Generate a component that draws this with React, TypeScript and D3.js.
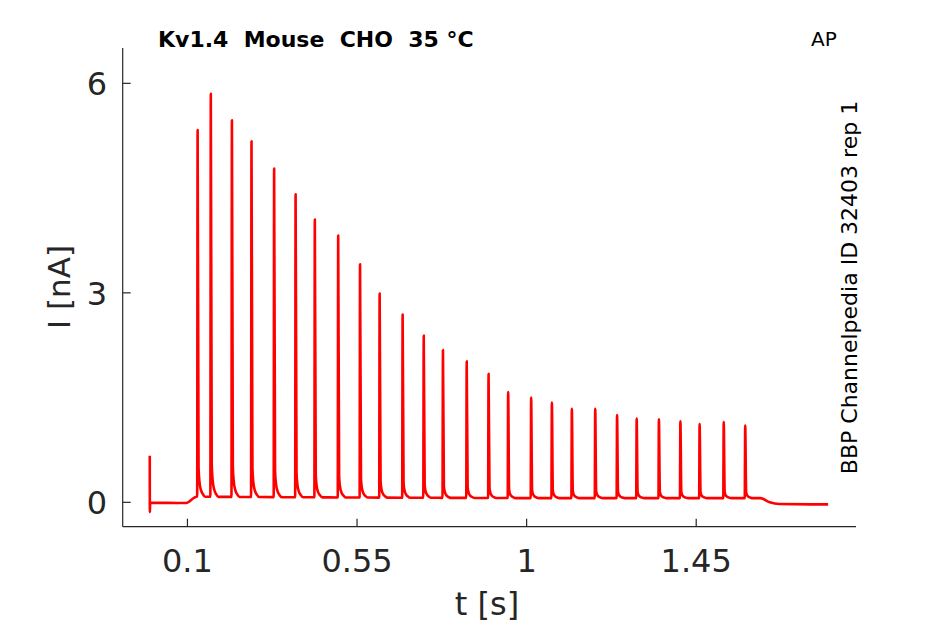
import React, { useEffect, useRef } from 'react';
import * as d3 from 'd3';

// recording: one stimulus artifact, then a train of AP-evoked current spikes
const spikeTimes = [
  0.127, 0.162, 0.218, 0.270, 0.330, 0.387, 0.438, 0.500, 0.558, 0.610,
  0.671, 0.727, 0.778, 0.841, 0.899, 0.951, 1.012, 1.067, 1.120, 1.182,
  1.240, 1.292, 1.351, 1.408, 1.459, 1.523, 1.580,
];
const spikePeaks = [
  5.33, 5.85, 5.47, 5.17, 4.78, 4.41, 4.05, 3.82, 3.41, 2.99,
  2.69, 2.39, 2.18, 2.02, 1.84, 1.58, 1.50, 1.43, 1.34, 1.34,
  1.25, 1.20, 1.19, 1.16, 1.12, 1.15, 1.10,
];
// spike shape: [dt (s), fraction of amplitude above baseline]
const spikeShape: [number, number][] = [
  [-0.0012, 0], [0, 1], [0.0025, 0.08], [0.005, 0.04], [0.009, 0.018], [0.014, 0.007], [0.02, 0],
];
// holding-current baseline
const baselineT = [0.001, 0.095, 0.125, 0.5, 1.0, 1.62, 1.645, 1.67, 1.8];
const baselineI = [-0.005, -0.01, 0.08, 0.07, 0.06, 0.06, 0.0, -0.025, -0.03];
// stimulus artifact at t = 0
const artifactT = [0, 0.0003];
const artifactI = [0.667, -0.14];

const xTicks = [0.1, 0.55, 1, 1.45];
const yTicks = [0, 3, 6];

const W = 945;
const H = 624;
const left = 122.7, right = 856, top = 48, bottom = 526.7;
const axisColor = '#262626';
const font = '"DejaVu Sans", sans-serif';

const App: React.FC = () => {
  const svgRef = useRef<SVGSVGElement>(null);

  useEffect(() => {
    if (!svgRef.current) return;
    const svg = d3.select(svgRef.current);
    svg.selectAll('*').remove();

    const x = d3.scaleLinear().domain([-0.0718, 1.874]).range([left, right]);
    const y = d3.scaleLinear().domain([-0.349, 6.506]).range([bottom, top]);
    const base = d3.scaleLinear<number>().domain(baselineT).range(baselineI).clamp(true);

    // assemble trace points
    const pts: [number, number][] = [];
    artifactT.forEach((t, i) => pts.push([t, artifactI[i]]));
    baselineT.forEach((t, i) => {
      const inSpike = spikeTimes.some(s => t > s - 0.002 && t < s + 0.021);
      if (!inSpike) pts.push([t, baselineI[i]]);
    });
    spikeTimes.forEach((s, k) => {
      spikeShape.forEach(([dt, f]) => {
        const b = base(s + dt);
        pts.push([s + dt, b + f * (spikePeaks[k] - b)]);
      });
    });
    pts.sort((a, b) => a[0] - b[0]);

    const line = d3.line<[number, number]>()
      .x(d => x(d[0]))
      .y(d => y(d[1]))
      .curve(d3.curveMonotoneX);

    svg.append('path')
      .attr('d', line(pts))
      .attr('fill', 'none')
      .attr('stroke', '#ff0000')
      .attr('stroke-width', 2.6)
      .attr('stroke-linejoin', 'round');

    // axes (box off, ticks inward)
    const ax = svg.append('g').attr('stroke', axisColor).attr('stroke-width', 1.2);
    ax.append('line').attr('x1', left).attr('x2', left).attr('y1', top).attr('y2', bottom);
    ax.append('line').attr('x1', left).attr('x2', right).attr('y1', bottom).attr('y2', bottom);
    xTicks.forEach(t => {
      ax.append('line').attr('x1', x(t)).attr('x2', x(t)).attr('y1', bottom).attr('y2', bottom - 8);
    });
    yTicks.forEach(t => {
      ax.append('line').attr('x1', left).attr('x2', left + 8).attr('y1', y(t)).attr('y2', y(t));
    });

    const txt = svg.append('g').attr('font-family', font).attr('fill', axisColor);
    xTicks.forEach(t => {
      txt.append('text').attr('x', x(t)).attr('y', 572)
        .attr('text-anchor', 'middle').attr('font-size', 32).text(d3.format('~g')(t));
    });
    yTicks.forEach(t => {
      txt.append('text').attr('x', 107).attr('y', y(t) + 11.8)
        .attr('text-anchor', 'end').attr('font-size', 32).text(String(t));
    });
    txt.append('text').attr('x', 487).attr('y', 615)
      .attr('text-anchor', 'middle').attr('font-size', 32).text('t [s]');
    txt.append('text').attr('transform', 'translate(70,287) rotate(-90)')
      .attr('text-anchor', 'middle').attr('font-size', 31).text('I [nA]');

    svg.append('text').attr('x', 158).attr('y', 47)
      .attr('font-family', font).attr('font-weight', 'bold').attr('font-size', 22)
      .style('white-space', 'pre').text('Kv1.4  Mouse  CHO  35 °C');
    svg.append('text').attr('x', 811).attr('y', 46)
      .attr('font-family', font).attr('font-size', 20).text('AP');
    svg.append('text').attr('transform', 'translate(857,287.5) rotate(-90)')
      .attr('text-anchor', 'middle')
      .attr('font-family', font).attr('font-size', 22).text('BBP Channelpedia ID 32403 rep 1');
  }, []);

  return (
    <svg ref={svgRef} width={W} height={H}
      style={{ position: 'absolute', left: 0, top: 0, background: '#fff' }} />
  );
};

export default App;
